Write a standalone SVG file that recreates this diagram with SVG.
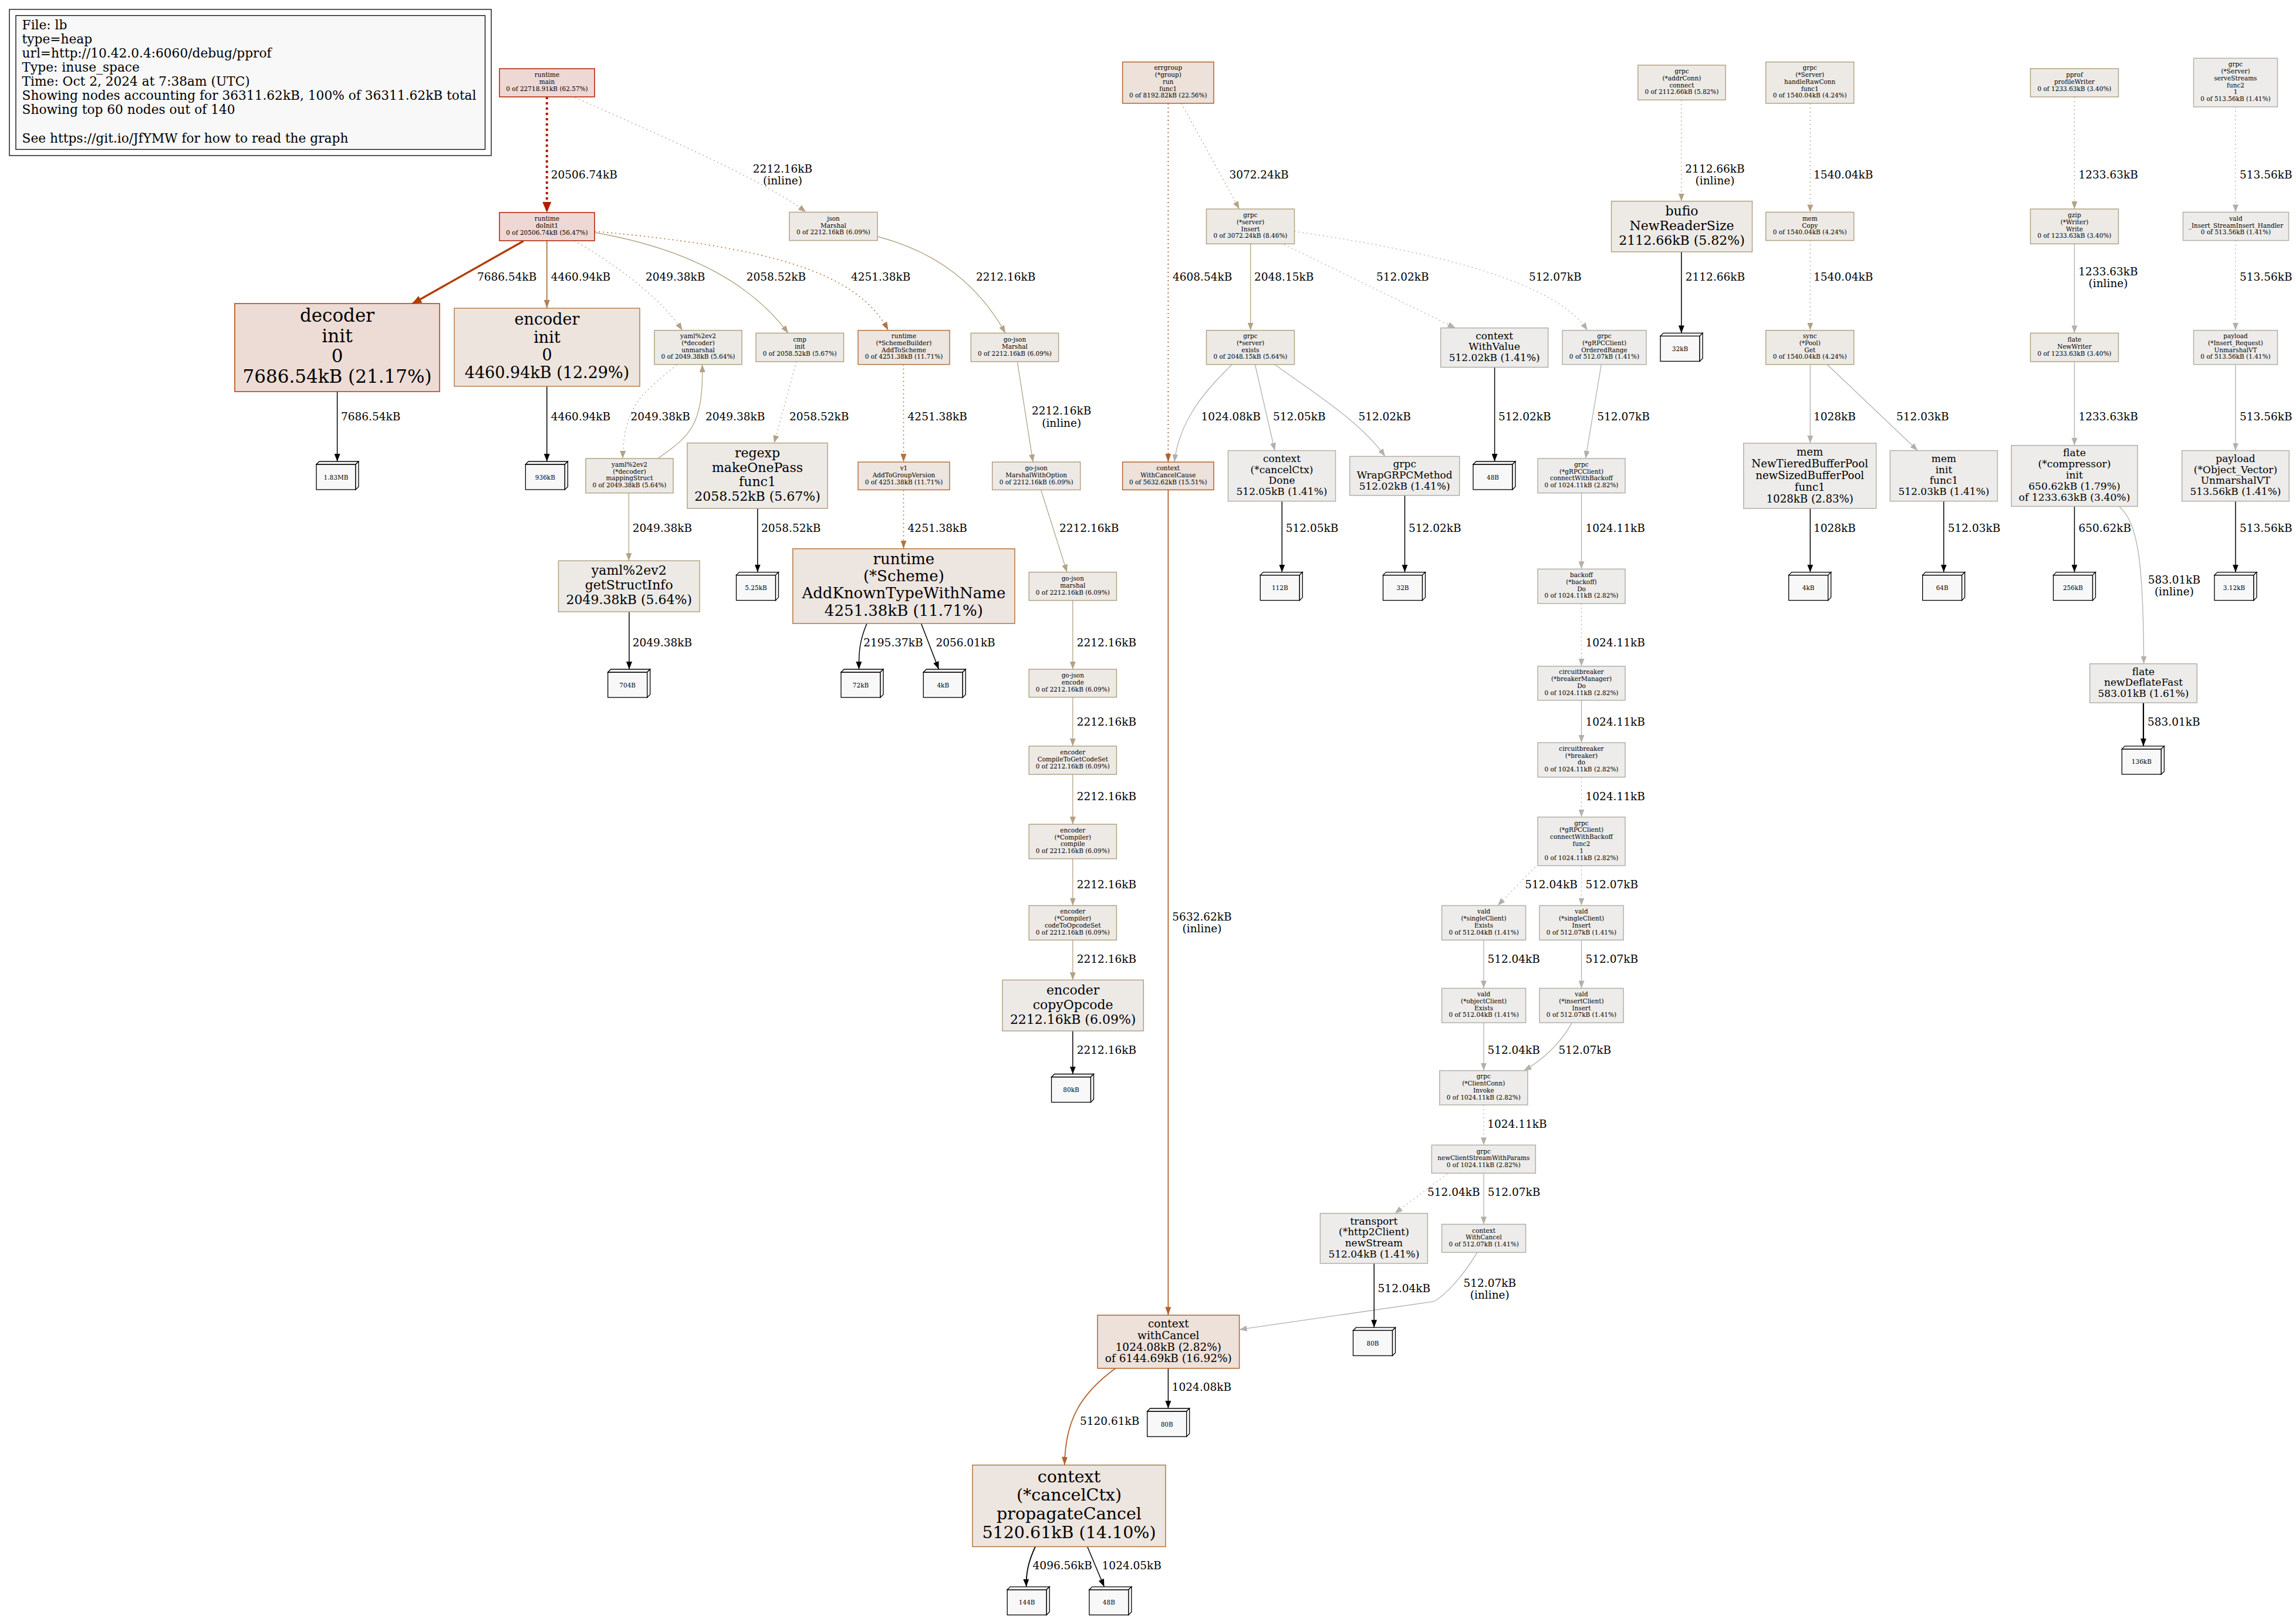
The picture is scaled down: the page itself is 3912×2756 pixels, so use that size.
<svg xmlns="http://www.w3.org/2000/svg" xmlns:xlink="http://www.w3.org/1999/xlink" width="3912" height="2756" viewBox="0 0 3912 2756">
<style>
text{font-family:"DejaVu Serif","Liberation Serif",serif;fill:#000;dominant-baseline:central}
.nt{text-anchor:middle}
.s{font-size:10.5px}.f17{font-size:17px}.f172{font-size:17.2px}.f182{font-size:18.2px}.f185{font-size:18.5px}.f22{font-size:22px}.f26{font-size:26px}.f27{font-size:27px}.f285{font-size:28.5px}.f31{font-size:31px}
.el{font-size:18.5px}.elc{font-size:18.5px;text-anchor:middle}
.lg{font-size:21.7px}
.red{fill:#edd8d5;stroke:#b21e00;stroke-width:1.5}
.dec{fill:#eddcd5;stroke:#b23c00;stroke-width:1.5}
.enc{fill:#ede4dd;stroke:#b28152;stroke-width:1.5}
.org2{fill:#ede1d9;stroke:#b2622d;stroke-width:1.5}
.org{fill:#ede5df;stroke:#b2753f;stroke-width:1.5}
.tan{fill:#edeae6;stroke:#b2a388;stroke-width:1.5}
.gray{fill:#edecea;stroke:#b2b0a9;stroke-width:1.5}
.e{fill:none}
.eRed{stroke:#b21e00;stroke-width:4;stroke-dasharray:4,5;marker-end:url(#mRed)}
.eDec{stroke:#b23c00;stroke-width:3.4;marker-end:url(#mDec)}
.eEnc{stroke:#b28152;stroke-width:2;marker-end:url(#mEnc)}
.eOrg{stroke:#b2753f;stroke-width:1.6;marker-end:url(#mOrg)}
.eOrg2{stroke:#b2622d;stroke-width:1.8;marker-end:url(#mOrg2)}
.eTan{stroke:#b2a284;stroke-width:1.3;marker-end:url(#mTan)}
.eGray{stroke:#b2b0aa;stroke-width:1.3;marker-end:url(#mGray)}
.eBlk{stroke:#000;stroke-width:1.5;marker-end:url(#mBlk)}
.d{stroke-dasharray:2,5}
.b3 rect,.b3 polygon{fill:#f8f8f8;stroke:#000;stroke-width:1.3}
.bt{font-size:10.5px;text-anchor:middle}
</style>
<defs>
<marker id="mRed" markerUnits="userSpaceOnUse" markerWidth="18" markerHeight="15" refX="18" refY="7.5" orient="auto"><path d="M0,0 L18,7.5 L0,15 z" fill="#b21e00"/></marker>
<marker id="mDec" markerUnits="userSpaceOnUse" markerWidth="17" markerHeight="13" refX="17" refY="6.5" orient="auto"><path d="M0,0 L17,6.5 L0,13 z" fill="#b23c00"/></marker>
<marker id="mEnc" markerUnits="userSpaceOnUse" markerWidth="14" markerHeight="10" refX="14" refY="5" orient="auto"><path d="M0,0 L14,5 L0,10 z" fill="#b28152"/></marker>
<marker id="mOrg" markerUnits="userSpaceOnUse" markerWidth="14" markerHeight="10" refX="14" refY="5" orient="auto"><path d="M0,0 L14,5 L0,10 z" fill="#b2753f"/></marker>
<marker id="mOrg2" markerUnits="userSpaceOnUse" markerWidth="14" markerHeight="10" refX="14" refY="5" orient="auto"><path d="M0,0 L14,5 L0,10 z" fill="#b2622d"/></marker>
<marker id="mTan" markerUnits="userSpaceOnUse" markerWidth="13" markerHeight="10" refX="13" refY="5" orient="auto"><path d="M0,0 L13,5 L0,10 z" fill="#b2a284"/></marker>
<marker id="mGray" markerUnits="userSpaceOnUse" markerWidth="13" markerHeight="10" refX="13" refY="5" orient="auto"><path d="M0,0 L13,5 L0,10 z" fill="#b2b0aa"/></marker>
<marker id="mBlk" markerUnits="userSpaceOnUse" markerWidth="13" markerHeight="10" refX="13" refY="5" orient="auto"><path d="M0,0 L13,5 L0,10 z" fill="#000"/></marker>
<g id="b3" class="b3"><rect x="0" y="5" width="67" height="43"/><polygon points="0,5 5,0 72,0 67,5"/><polygon points="67,5 72,0 72,43 67,48"/></g>
</defs>
<rect x="0" y="0" width="3912" height="2756" fill="#fff"/>

<g id="legend">
<rect x="16" y="16" width="821" height="249" fill="#fff" stroke="#000" stroke-width="1.3"/>
<rect x="27" y="26.5" width="799.5" height="228" fill="#f8f8f8" stroke="#000" stroke-width="1.3"/>
<text class="lg"><tspan x="37.6" y="42">File: lb</tspan><tspan x="37.6" y="66">type=heap</tspan><tspan x="37.6" y="90">url=http://10.42.0.4:6060/debug/pprof</tspan><tspan x="37.6" y="114">Type: inuse_space</tspan><tspan x="37.6" y="138">Time: Oct 2, 2024 at 7:38am (UTC)</tspan><tspan x="37.6" y="162">Showing nodes accounting for 36311.62kB, 100% of 36311.62kB total</tspan><tspan x="37.6" y="186">Showing top 60 nodes out of 140</tspan><tspan x="37.6" y="235.2">See https://git.io/JfYMW for how to read the graph</tspan></text>
</g>

<g id="edges">
<path class="e eRed" d="M931.8,165 L931.8,362"/>
<path class="e eTan d" d="M980,166 C1100,220 1300,305 1373,361"/>
<path class="e eDec" d="M891.6,410.7 L701.5,518"/>
<path class="e eEnc" d="M931.8,410 L931.8,525"/>
<path class="e eTan d" d="M979,410 C1040,445 1125,505 1162.6,562.7"/>
<path class="e eTan" d="M1013,396 C1150,420 1270,470 1343,567.4"/>
<path class="e eOrg d" d="M1013,394 C1300,420 1460,460 1513.4,562.7"/>
<path class="e eTan" d="M1495,403 C1600,430 1670,490 1713,567.4"/>
<path class="e eTan d" d="M1153,621 C1105,665 1063,680 1061,781"/>
<path class="e eTan" d="M1121,781 C1170,745 1200,730 1196.4,621"/>
<path class="e eTan d" d="M1357,616 L1319,754.6"/>
<path class="e eOrg d" d="M1539.5,620.8 L1539.5,787"/>
<path class="e eTan" d="M1733.4,616 L1760,787"/>
<path class="e eOrg2 d" d="M1990.4,176 L1990.4,787"/>
<path class="e eTan d" d="M2012.8,176 L2111.6,356"/>
<path class="e eTan" d="M2130.7,415.4 L2130.7,562.7"/>
<path class="e eGray d" d="M2188,416.6 L2479.6,558.6"/>
<path class="e eGray d" d="M2205.4,394 C2450,430 2650,480 2704.7,562.7"/>
<path class="e eGray" d="M2098.8,621 C2060,660 2010,710 2001,787"/>
<path class="e eGray" d="M2138.4,621 L2172,767.5"/>
<path class="e eGray" d="M2172,621 C2240,670 2320,720 2360,777.4"/>
<path class="e eBlk" d="M2546.6,625.6 L2546.6,786"/>
<path class="e eGray" d="M2728.3,621 L2701.5,781"/>
<path class="e eTan d" d="M2864.8,170.2 L2864.8,342.7"/>
<path class="e eBlk" d="M2864.8,429 L2864.8,567.4"/>
<path class="e eTan d" d="M3084.3,176 L3084.3,361.4"/>
<path class="e eTan d" d="M3084.3,409.6 L3084.3,562.7"/>
<path class="e eGray" d="M3084.3,620.8 L3084.3,755"/>
<path class="e eGray" d="M3113.4,621 L3267.5,767.5"/>
<path class="e eTan d" d="M3534.5,165 L3534.5,356"/>
<path class="e eGray" d="M3534.5,415.4 L3534.5,567.4"/>
<path class="e eGray" d="M3534.5,616 L3534.5,758.7"/>
<path class="e eGray d" d="M3809,182 L3809,361.4"/>
<path class="e eGray d" d="M3809,409.6 L3809,562.7"/>
<path class="e eGray" d="M3809,620.8 L3809,767.5"/>
<path class="e eGray" d="M3610.7,862.5 C3640,890 3652,940 3652.6,1130.6"/>
<path class="e eBlk" style="stroke-width:2.2" d="M3652,1197 L3652,1270.9"/>
<path class="e eBlk" d="M3084.3,866 L3084.3,974.6"/>
<path class="e eBlk" d="M3311.8,853.7 L3311.8,974.6"/>
<path class="e eBlk" d="M3534.5,862.5 L3534.5,974.6"/>
<path class="e eBlk" d="M3809,853.7 L3809,974.6"/>
<path class="e eBlk" d="M574.6,667 L574.6,786"/>
<path class="e eBlk" d="M931.8,658 L931.8,786"/>
<path class="e eTan" d="M1071.4,839.7 L1071.4,955.2"/>
<path class="e eBlk" d="M1290.8,866 L1290.8,974.6"/>
<path class="e eOrg d" d="M1539.5,834.4 L1539.5,934.7"/>
<path class="e eTan" d="M1773.6,834.4 L1818,974.6"/>
<path class="e eBlk" d="M1072,1042 L1072,1140"/>
<path class="e eBlk" d="M1477,1062 C1465,1090 1463,1110 1463.5,1140"/>
<path class="e eBlk" d="M1569.5,1062 L1599.5,1140"/>
<path class="e eTan" d="M1827.8,1022.7 L1827.8,1140"/>
<path class="e eTan" d="M1827.8,1187.6 L1827.8,1270.9"/>
<path class="e eTan" d="M1827.8,1319 L1827.8,1404"/>
<path class="e eTan" d="M1827.8,1462.7 L1827.8,1542.5"/>
<path class="e eTan" d="M1827.8,1601.2 L1827.8,1669.3"/>
<path class="e eBlk" d="M1827.8,1756 L1827.8,1829.5"/>
<path class="e eOrg2" d="M1990.4,834.4 L1990.4,2240.2"/>
<path class="e eBlk" d="M2184.3,853.7 L2184.3,974.6"/>
<path class="e eBlk" d="M2393.5,843.8 L2393.5,974.6"/>
<path class="e eGray" d="M2694.5,839.7 L2694.5,969.3"/>
<path class="e eGray d" d="M2694.5,1028 L2694.5,1134.8"/>
<path class="e eGray" d="M2694.5,1192.8 L2694.5,1265"/>
<path class="e eGray d" d="M2694.5,1323.7 L2694.5,1391.7"/>
<path class="e eGray d" d="M2615.4,1477 L2551.7,1542.5"/>
<path class="e eGray d" d="M2694.5,1474.5 L2694.5,1542.5"/>
<path class="e eGray" d="M2528,1601.2 L2528,1683.4"/>
<path class="e eGray" d="M2694.5,1601.2 L2694.5,1683.4"/>
<path class="e eGray" d="M2528,1742 L2528,1823.6"/>
<path class="e eGray" d="M2678,1742.6 C2660,1775 2630,1805 2596.3,1823.6"/>
<path class="e eGray d" d="M2528,1882 L2528,1950.4"/>
<path class="e eGray d" d="M2465.8,1999.5 L2376.5,2066.7"/>
<path class="e eGray" d="M2528,1998.3 L2528,2085.4"/>
<path class="e eGray" d="M2516.8,2133.3 C2495,2170 2465,2205 2442.9,2216.8 L2111.6,2264.7"/>
<path class="e eBlk" d="M2341.2,2152 L2341.2,2261.2"/>
<path class="e eBlk" d="M1990.4,2330.7 L1990.4,2399"/>
<path class="e eOrg2" d="M1900.5,2330.7 C1840,2375 1815,2420 1813.8,2495.5"/>
<path class="e eBlk" style="stroke-width:1.8" d="M1764,2634.5 C1752,2660 1748,2680 1748.7,2702.8"/>
<path class="e eBlk" d="M1852.7,2634.5 L1881.4,2702.8"/>
</g>

<g id="edge-labels">
<text class="el" x="938.8" y="297">20506.74kB</text>
<text class="elc"><tspan x="1333.5" y="287">2212.16kB</tspan><tspan x="1333.5" y="307">(inline)</tspan></text>
<text class="el" x="813" y="471">7686.54kB</text>
<text class="el" x="938.8" y="471">4460.94kB</text>
<text class="el" x="1100" y="471">2049.38kB</text>
<text class="el" x="1271.7" y="471">2058.52kB</text>
<text class="el" x="1450" y="471">4251.38kB</text>
<text class="el" x="1663" y="471">2212.16kB</text>
<text class="el" x="1998" y="471">4608.54kB</text>
<text class="el" x="2137" y="471">2048.15kB</text>
<text class="el" x="2345" y="471">512.02kB</text>
<text class="el" x="2605" y="471">512.07kB</text>
<text class="el" x="2871.8" y="471">2112.66kB</text>
<text class="el" x="2094.4" y="297">3072.24kB</text>
<text class="elc"><tspan x="2922" y="287">2112.66kB</tspan><tspan x="2922" y="307">(inline)</tspan></text>
<text class="el" x="3090" y="297">1540.04kB</text>
<text class="el" x="3090" y="471">1540.04kB</text>
<text class="el" x="3541.5" y="297">1233.63kB</text>
<text class="elc"><tspan x="3592" y="462">1233.63kB</tspan><tspan x="3592" y="482">(inline)</tspan></text>
<text class="el" x="3816" y="297">513.56kB</text>
<text class="el" x="3816" y="471">513.56kB</text>
<text class="el" x="581" y="709">7686.54kB</text>
<text class="el" x="938.8" y="709">4460.94kB</text>
<text class="el" x="1074.6" y="709">2049.38kB</text>
<text class="el" x="1202" y="709">2049.38kB</text>
<text class="el" x="1345" y="709">2058.52kB</text>
<text class="el" x="1546.6" y="709">4251.38kB</text>
<text class="elc"><tspan x="1808.7" y="699">2212.16kB</tspan><tspan x="1808.7" y="719.5">(inline)</tspan></text>
<text class="el" x="2046.6" y="709">1024.08kB</text>
<text class="el" x="2169" y="709">512.05kB</text>
<text class="el" x="2314.4" y="709">512.02kB</text>
<text class="el" x="2553" y="709">512.02kB</text>
<text class="el" x="2721.3" y="709">512.07kB</text>
<text class="el" x="3090" y="709">1028kB</text>
<text class="el" x="3231" y="709">512.03kB</text>
<text class="el" x="3541.5" y="709">1233.63kB</text>
<text class="el" x="3816" y="709">513.56kB</text>
<text class="el" x="1077.8" y="899">2049.38kB</text>
<text class="el" x="1297" y="899">2058.52kB</text>
<text class="el" x="1546.6" y="899">4251.38kB</text>
<text class="el" x="1805" y="899">2212.16kB</text>
<text class="el" x="2190.7" y="899">512.05kB</text>
<text class="el" x="2400" y="899">512.02kB</text>
<text class="el" x="2701.5" y="899">1024.11kB</text>
<text class="el" x="3090" y="899">1028kB</text>
<text class="el" x="3318.7" y="899">512.03kB</text>
<text class="el" x="3541.5" y="899">650.62kB</text>
<text class="el" x="3816" y="899">513.56kB</text>
<text class="elc"><tspan x="3704.4" y="987">583.01kB</tspan><tspan x="3704.4" y="1007.4">(inline)</tspan></text>
<text class="el" x="1077.8" y="1094.9">2049.38kB</text>
<text class="el" x="1471.3" y="1094.9">2195.37kB</text>
<text class="el" x="1594.4" y="1094.9">2056.01kB</text>
<text class="el" x="1834.8" y="1094.9">2212.16kB</text>
<text class="el" x="2701.5" y="1094.9">1024.11kB</text>
<text class="el" x="3659" y="1229.8">583.01kB</text>
<text class="el" x="1834.8" y="1229.8">2212.16kB</text>
<text class="el" x="2701.5" y="1229.8">1024.11kB</text>
<text class="el" x="1834.8" y="1356.5">2212.16kB</text>
<text class="el" x="2701.5" y="1356.5">1024.11kB</text>
<text class="el" x="1834.8" y="1506.8">2212.16kB</text>
<text class="el" x="2598.2" y="1506.8">512.04kB</text>
<text class="el" x="2701.5" y="1506.8">512.07kB</text>
<text class="elc"><tspan x="2048" y="1560.7">5632.62kB</tspan><tspan x="2048" y="1581.3">(inline)</tspan></text>
<text class="el" x="1834.8" y="1633.5">2212.16kB</text>
<text class="el" x="2534.4" y="1633.5">512.04kB</text>
<text class="el" x="2701.5" y="1633.5">512.07kB</text>
<text class="el" x="1834.8" y="1788.4">2212.16kB</text>
<text class="el" x="2534.4" y="1788.4">512.04kB</text>
<text class="el" x="2655.6" y="1788.4">512.07kB</text>
<text class="el" x="2534.2" y="1914.8">1024.11kB</text>
<text class="el" x="2432" y="2030.4">512.04kB</text>
<text class="el" x="2534.7" y="2030.4">512.07kB</text>
<text class="elc"><tspan x="2538.3" y="2184.7">512.07kB</tspan><tspan x="2538.3" y="2205.1">(inline)</tspan></text>
<text class="el" x="2347.6" y="2194">512.04kB</text>
<text class="el" x="1996.8" y="2362.8">1024.08kB</text>
<text class="el" x="1840" y="2420.7">5120.61kB</text>
<text class="el" x="1759.6" y="2666.6">4096.56kB</text>
<text class="el" x="1877.6" y="2666.6">1024.05kB</text>
</g>

<g id="n_runtime_main"><rect class="red" x="851" y="117" width="162" height="48"/><text class="nt s"><tspan x="932" y="127.2">runtime</tspan><tspan x="932" dy="11.8">main</tspan><tspan x="932" dy="11.8">0 of 22718.91kB (62.57%)</tspan></text></g>
<g id="n_runtime_doInit1"><rect class="red" x="851" y="362" width="162" height="48"/><text class="nt s"><tspan x="932" y="372.2">runtime</tspan><tspan x="932" dy="11.8">doInit1</tspan><tspan x="932" dy="11.8">0 of 20506.74kB (56.47%)</tspan></text></g>
<g id="n_decoder_init"><rect class="dec" x="400" y="517" width="349" height="150"/><text class="nt f31"><tspan x="574.5" y="537.3">decoder</tspan><tspan x="574.5" dy="34.5">init</tspan><tspan x="574.5" dy="34.5">0</tspan><tspan x="574.5" dy="34.5">7686.54kB (21.17%)</tspan></text></g>
<g id="n_encoder_init"><rect class="enc" x="774" y="525" width="316" height="133"/><text class="nt f27"><tspan x="932" y="543.4">encoder</tspan><tspan x="932" dy="30.3">init</tspan><tspan x="932" dy="30.3">0</tspan><tspan x="932" dy="30.3">4460.94kB (12.29%)</tspan></text></g>
<g id="n_json_Marshal"><rect class="tan" x="1345" y="361.4" width="150" height="48.2"/><text class="nt s"><tspan x="1420" y="371.7">json</tspan><tspan x="1420" dy="11.8">Marshal</tspan><tspan x="1420" dy="11.8">0 of 2212.16kB (6.09%)</tspan></text></g>
<g id="n_yaml_unmarshal"><rect class="tan" x="1115" y="562.7" width="149" height="58.1"/><text class="nt s"><tspan x="1189.5" y="572">yaml%2ev2</tspan><tspan x="1189.5" dy="11.8">(*decoder)</tspan><tspan x="1189.5" dy="11.8">unmarshal</tspan><tspan x="1189.5" dy="11.8">0 of 2049.38kB (5.64%)</tspan></text></g>
<g id="n_cmp_init"><rect class="tan" x="1288" y="567.4" width="149.5" height="48.6"/><text class="nt s"><tspan x="1362.75" y="577.9">cmp</tspan><tspan x="1362.75" dy="11.8">init</tspan><tspan x="1362.75" dy="11.8">0 of 2058.52kB (5.67%)</tspan></text></g>
<g id="n_AddToScheme"><rect class="org" x="1462" y="562.7" width="156" height="58.1"/><text class="nt s"><tspan x="1540" y="572">runtime</tspan><tspan x="1540" dy="11.8">(*SchemeBuilder)</tspan><tspan x="1540" dy="11.8">AddToScheme</tspan><tspan x="1540" dy="11.8">0 of 4251.38kB (11.71%)</tspan></text></g>
<g id="n_gojson_Marshal"><rect class="tan" x="1654.3" y="567.4" width="149.3" height="48.6"/><text class="nt s"><tspan x="1729" y="577.9">go-json</tspan><tspan x="1729" dy="11.8">Marshal</tspan><tspan x="1729" dy="11.8">0 of 2212.16kB (6.09%)</tspan></text></g>
<g id="n_mappingStruct"><rect class="tan" x="998" y="781" width="149" height="58.7"/><text class="nt s"><tspan x="1072.5" y="790.7">yaml%2ev2</tspan><tspan x="1072.5" dy="11.8">(*decoder)</tspan><tspan x="1072.5" dy="11.8">mappingStruct</tspan><tspan x="1072.5" dy="11.8">0 of 2049.38kB (5.64%)</tspan></text></g>
<g id="n_regexp"><rect class="tan" x="1171" y="754.6" width="239" height="111.4"/><text class="nt f22"><tspan x="1290.5" y="771.2">regexp</tspan><tspan x="1290.5" dy="24.6">makeOnePass</tspan><tspan x="1290.5" dy="24.6">func1</tspan><tspan x="1290.5" dy="24.6">2058.52kB (5.67%)</tspan></text></g>
<g id="n_v1"><rect class="org" x="1462" y="787" width="156" height="47.4"/><text class="nt s"><tspan x="1540" y="796.9">v1</tspan><tspan x="1540" dy="11.8">AddToGroupVersion</tspan><tspan x="1540" dy="11.8">0 of 4251.38kB (11.71%)</tspan></text></g>
<g id="n_MarshalWithOption"><rect class="tan" x="1690.7" y="787" width="150" height="47.4"/><text class="nt s"><tspan x="1765.7" y="796.9">go-json</tspan><tspan x="1765.7" dy="11.8">MarshalWithOption</tspan><tspan x="1765.7" dy="11.8">0 of 2212.16kB (6.09%)</tspan></text></g>
<g id="n_errgroup"><rect class="org2" x="1912.6" y="105.6" width="155.4" height="70.4"/><text class="nt s"><tspan x="1990.3" y="115.2">errgroup</tspan><tspan x="1990.3" dy="11.8">(*group)</tspan><tspan x="1990.3" dy="11.8">run</tspan><tspan x="1990.3" dy="11.8">func1</tspan><tspan x="1990.3" dy="11.8">0 of 8192.82kB (22.56%)</tspan></text></g>
<g id="n_WithCancelCause"><rect class="org2" x="1912.6" y="787" width="155.4" height="47.4"/><text class="nt s"><tspan x="1990.3" y="796.9">context</tspan><tspan x="1990.3" dy="11.8">WithCancelCause</tspan><tspan x="1990.3" dy="11.8">0 of 5632.62kB (15.51%)</tspan></text></g>
<g id="n_server_Insert"><rect class="tan" x="2055.5" y="356" width="150" height="59.4"/><text class="nt s"><tspan x="2130.5" y="366">grpc</tspan><tspan x="2130.5" dy="11.8">(*server)</tspan><tspan x="2130.5" dy="11.8">Insert</tspan><tspan x="2130.5" dy="11.8">0 of 3072.24kB (8.46%)</tspan></text></g>
<g id="n_server_exists"><rect class="tan" x="2055.5" y="562.7" width="150" height="58.1"/><text class="nt s"><tspan x="2130.5" y="572">grpc</tspan><tspan x="2130.5" dy="11.8">(*server)</tspan><tspan x="2130.5" dy="11.8">exists</tspan><tspan x="2130.5" dy="11.8">0 of 2048.15kB (5.64%)</tspan></text></g>
<g id="n_WithValue"><rect class="gray" x="2454.7" y="558.6" width="183" height="67"/><text class="nt f17"><tspan x="2546.2" y="571.8">context</tspan><tspan x="2546.2" dy="18.6">WithValue</tspan><tspan x="2546.2" dy="18.6">512.02kB (1.41%)</tspan></text></g>
<g id="n_OrderedRange"><rect class="gray" x="2662" y="562.7" width="143" height="58.1"/><text class="nt s"><tspan x="2733.5" y="572">grpc</tspan><tspan x="2733.5" dy="11.8">(*gRPCClient)</tspan><tspan x="2733.5" dy="11.8">OrderedRange</tspan><tspan x="2733.5" dy="11.8">0 of 512.07kB (1.41%)</tspan></text></g>
<g id="n_bufio"><rect class="tan" x="2745.5" y="342.7" width="240" height="86.3"/><text class="nt f22"><tspan x="2865.5" y="358.7">bufio</tspan><tspan x="2865.5" dy="25">NewReaderSize</tspan><tspan x="2865.5" dy="25">2112.66kB (5.82%)</tspan></text></g>
<g id="n_addrConn"><rect class="tan" x="2790.8" y="111" width="149.2" height="59.2"/><text class="nt s"><tspan x="2865.4" y="120.9">grpc</tspan><tspan x="2865.4" dy="11.8">(*addrConn)</tspan><tspan x="2865.4" dy="11.8">connect</tspan><tspan x="2865.4" dy="11.8">0 of 2112.66kB (5.82%)</tspan></text></g>
<g id="n_Done"><rect class="gray" x="2092.5" y="767.5" width="183" height="86.2"/><text class="nt f17"><tspan x="2184" y="781">context</tspan><tspan x="2184" dy="18.6">(*cancelCtx)</tspan><tspan x="2184" dy="18.6">Done</tspan><tspan x="2184" dy="18.6">512.05kB (1.41%)</tspan></text></g>
<g id="n_WrapGRPCMethod"><rect class="gray" x="2299.7" y="777.4" width="187" height="66.4"/><text class="nt f17"><tspan x="2393.2" y="790.3">grpc</tspan><tspan x="2393.2" dy="18.6">WrapGRPCMethod</tspan><tspan x="2393.2" dy="18.6">512.02kB (1.41%)</tspan></text></g>
<g id="n_connectWithBackoff"><rect class="gray" x="2620" y="781" width="149" height="58.7"/><text class="nt s"><tspan x="2694.5" y="790.7">grpc</tspan><tspan x="2694.5" dy="11.8">(*gRPCClient)</tspan><tspan x="2694.5" dy="11.8">connectWithBackoff</tspan><tspan x="2694.5" dy="11.8">0 of 1024.11kB (2.82%)</tspan></text></g>
<g id="n_handleRawConn"><rect class="tan" x="3008.7" y="105.6" width="150" height="70.4"/><text class="nt s"><tspan x="3083.7" y="115.2">grpc</tspan><tspan x="3083.7" dy="11.8">(*Server)</tspan><tspan x="3083.7" dy="11.8">handleRawConn</tspan><tspan x="3083.7" dy="11.8">func1</tspan><tspan x="3083.7" dy="11.8">0 of 1540.04kB (4.24%)</tspan></text></g>
<g id="n_mem_Copy"><rect class="tan" x="3008.7" y="361.4" width="150" height="48.2"/><text class="nt s"><tspan x="3083.7" y="371.7">mem</tspan><tspan x="3083.7" dy="11.8">Copy</tspan><tspan x="3083.7" dy="11.8">0 of 1540.04kB (4.24%)</tspan></text></g>
<g id="n_sync_Get"><rect class="tan" x="3008.7" y="562.7" width="150" height="58.1"/><text class="nt s"><tspan x="3083.7" y="572">sync</tspan><tspan x="3083.7" dy="11.8">(*Pool)</tspan><tspan x="3083.7" dy="11.8">Get</tspan><tspan x="3083.7" dy="11.8">0 of 1540.04kB (4.24%)</tspan></text></g>
<g id="n_NewTieredBufferPool"><rect class="gray" x="2970.7" y="755" width="226" height="111"/><text class="nt f182"><tspan x="3083.7" y="768.9">mem</tspan><tspan x="3083.7" dy="19.9">NewTieredBufferPool</tspan><tspan x="3083.7" dy="19.9">newSizedBufferPool</tspan><tspan x="3083.7" dy="19.9">func1</tspan><tspan x="3083.7" dy="19.9">1028kB (2.83%)</tspan></text></g>
<g id="n_mem_init_func1"><rect class="gray" x="3220.4" y="767.5" width="183" height="86.2"/><text class="nt f17"><tspan x="3312" y="781">mem</tspan><tspan x="3312" dy="18.6">init</tspan><tspan x="3312" dy="18.6">func1</tspan><tspan x="3312" dy="18.6">512.03kB (1.41%)</tspan></text></g>
<g id="n_pprof"><rect class="tan" x="3459.5" y="116.8" width="150" height="48.2"/><text class="nt s"><tspan x="3534.5" y="127.1">pprof</tspan><tspan x="3534.5" dy="11.8">profileWriter</tspan><tspan x="3534.5" dy="11.8">0 of 1233.63kB (3.40%)</tspan></text></g>
<g id="n_gzip"><rect class="tan" x="3459.5" y="356" width="150" height="59.4"/><text class="nt s"><tspan x="3534.5" y="366">gzip</tspan><tspan x="3534.5" dy="11.8">(*Writer)</tspan><tspan x="3534.5" dy="11.8">Write</tspan><tspan x="3534.5" dy="11.8">0 of 1233.63kB (3.40%)</tspan></text></g>
<g id="n_flate_NewWriter"><rect class="tan" x="3459.5" y="567.4" width="150" height="48.6"/><text class="nt s"><tspan x="3534.5" y="577.9">flate</tspan><tspan x="3534.5" dy="11.8">NewWriter</tspan><tspan x="3534.5" dy="11.8">0 of 1233.63kB (3.40%)</tspan></text></g>
<g id="n_compressor"><rect class="gray" x="3427" y="758.7" width="215" height="103.8"/><text class="nt f172"><tspan x="3534.5" y="771.3">flate</tspan><tspan x="3534.5" dy="18.8">(*compressor)</tspan><tspan x="3534.5" dy="18.8">init</tspan><tspan x="3534.5" dy="18.8">650.62kB (1.79%)</tspan><tspan x="3534.5" dy="18.8">of 1233.63kB (3.40%)</tspan></text></g>
<g id="n_serveStreams"><rect class="gray" x="3737.5" y="99.2" width="143" height="82.8"/><text class="nt s"><tspan x="3809" y="109.1">grpc</tspan><tspan x="3809" dy="11.8">(*Server)</tspan><tspan x="3809" dy="11.8">serveStreams</tspan><tspan x="3809" dy="11.8">func2</tspan><tspan x="3809" dy="11.8">1</tspan><tspan x="3809" dy="11.8">0 of 513.56kB (1.41%)</tspan></text></g>
<g id="n_vald_handler"><rect class="gray" x="3719.5" y="361.4" width="180" height="48.2"/><text class="nt s"><tspan x="3809.5" y="371.7">vald</tspan><tspan x="3809.5" dy="11.8">_Insert_StreamInsert_Handler</tspan><tspan x="3809.5" dy="11.8">0 of 513.56kB (1.41%)</tspan></text></g>
<g id="n_payload_req"><rect class="gray" x="3737.5" y="562.7" width="143" height="58.1"/><text class="nt s"><tspan x="3809" y="572">payload</tspan><tspan x="3809" dy="11.8">(*Insert_Request)</tspan><tspan x="3809" dy="11.8">UnmarshalVT</tspan><tspan x="3809" dy="11.8">0 of 513.56kB (1.41%)</tspan></text></g>
<g id="n_Object_Vector"><rect class="gray" x="3717.7" y="767.5" width="182.6" height="86.2"/><text class="nt f17"><tspan x="3809" y="781">payload</tspan><tspan x="3809" dy="18.6">(*Object_Vector)</tspan><tspan x="3809" dy="18.6">UnmarshalVT</tspan><tspan x="3809" dy="18.6">513.56kB (1.41%)</tspan></text></g>
<g id="n_newDeflateFast"><rect class="gray" x="3560.7" y="1130.6" width="182.6" height="66.4"/><text class="nt f17"><tspan x="3652" y="1143.5">flate</tspan><tspan x="3652" dy="18.6">newDeflateFast</tspan><tspan x="3652" dy="18.6">583.01kB (1.61%)</tspan></text></g>
<g id="n_getStructInfo"><rect class="tan" x="951.5" y="955.2" width="240.5" height="86.8"/><text class="nt f22"><tspan x="1071.75" y="971.4">yaml%2ev2</tspan><tspan x="1071.75" dy="25">getStructInfo</tspan><tspan x="1071.75" dy="25">2049.38kB (5.64%)</tspan></text></g>
<g id="n_AddKnownTypeWithName"><rect class="org" x="1350.8" y="934.7" width="378.2" height="127.3"/><text class="nt f26"><tspan x="1539.9" y="952">runtime</tspan><tspan x="1539.9" dy="29.2">(*Scheme)</tspan><tspan x="1539.9" dy="29.2">AddKnownTypeWithName</tspan><tspan x="1539.9" dy="29.2">4251.38kB (11.71%)</tspan></text></g>
<g id="n_gojson_marshal"><rect class="tan" x="1753.2" y="974.6" width="149.2" height="48.1"/><text class="nt s"><tspan x="1827.8" y="984.9">go-json</tspan><tspan x="1827.8" dy="11.8">marshal</tspan><tspan x="1827.8" dy="11.8">0 of 2212.16kB (6.09%)</tspan></text></g>
<g id="n_gojson_encode"><rect class="tan" x="1753.2" y="1140" width="149.2" height="47.6"/><text class="nt s"><tspan x="1827.8" y="1150">go-json</tspan><tspan x="1827.8" dy="11.8">encode</tspan><tspan x="1827.8" dy="11.8">0 of 2212.16kB (6.09%)</tspan></text></g>
<g id="n_CompileToGetCodeSet"><rect class="tan" x="1753.2" y="1270.9" width="149.2" height="48.1"/><text class="nt s"><tspan x="1827.8" y="1281.2">encoder</tspan><tspan x="1827.8" dy="11.8">CompileToGetCodeSet</tspan><tspan x="1827.8" dy="11.8">0 of 2212.16kB (6.09%)</tspan></text></g>
<g id="n_compile"><rect class="tan" x="1753.2" y="1404" width="149.2" height="58.7"/><text class="nt s"><tspan x="1827.8" y="1413.7">encoder</tspan><tspan x="1827.8" dy="11.8">(*Compiler)</tspan><tspan x="1827.8" dy="11.8">compile</tspan><tspan x="1827.8" dy="11.8">0 of 2212.16kB (6.09%)</tspan></text></g>
<g id="n_codeToOpcodeSet"><rect class="tan" x="1753.2" y="1542.5" width="149.2" height="58.7"/><text class="nt s"><tspan x="1827.8" y="1552.2">encoder</tspan><tspan x="1827.8" dy="11.8">(*Compiler)</tspan><tspan x="1827.8" dy="11.8">codeToOpcodeSet</tspan><tspan x="1827.8" dy="11.8">0 of 2212.16kB (6.09%)</tspan></text></g>
<g id="n_copyOpcode"><rect class="tan" x="1708" y="1669.3" width="240.3" height="86.7"/><text class="nt f22"><tspan x="1828.15" y="1685.5">encoder</tspan><tspan x="1828.15" dy="25">copyOpcode</tspan><tspan x="1828.15" dy="25">2212.16kB (6.09%)</tspan></text></g>
<g id="n_backoff"><rect class="gray" x="2620" y="969.3" width="149" height="58.7"/><text class="nt s"><tspan x="2694.5" y="979">backoff</tspan><tspan x="2694.5" dy="11.8">(*backoff)</tspan><tspan x="2694.5" dy="11.8">Do</tspan><tspan x="2694.5" dy="11.8">0 of 1024.11kB (2.82%)</tspan></text></g>
<g id="n_breakerManager"><rect class="gray" x="2620" y="1134.8" width="149" height="58"/><text class="nt s"><tspan x="2694.5" y="1144.1">circuitbreaker</tspan><tspan x="2694.5" dy="11.8">(*breakerManager)</tspan><tspan x="2694.5" dy="11.8">Do</tspan><tspan x="2694.5" dy="11.8">0 of 1024.11kB (2.82%)</tspan></text></g>
<g id="n_breaker_do"><rect class="gray" x="2620" y="1265" width="149" height="58.7"/><text class="nt s"><tspan x="2694.5" y="1274.7">circuitbreaker</tspan><tspan x="2694.5" dy="11.8">(*breaker)</tspan><tspan x="2694.5" dy="11.8">do</tspan><tspan x="2694.5" dy="11.8">0 of 1024.11kB (2.82%)</tspan></text></g>
<g id="n_func2"><rect class="gray" x="2620" y="1391.7" width="149" height="82.8"/><text class="nt s"><tspan x="2694.5" y="1401.6">grpc</tspan><tspan x="2694.5" dy="11.8">(*gRPCClient)</tspan><tspan x="2694.5" dy="11.8">connectWithBackoff</tspan><tspan x="2694.5" dy="11.8">func2</tspan><tspan x="2694.5" dy="11.8">1</tspan><tspan x="2694.5" dy="11.8">0 of 1024.11kB (2.82%)</tspan></text></g>
<g id="n_singleClient_Exists"><rect class="gray" x="2456.6" y="1542.5" width="143" height="58.7"/><text class="nt s"><tspan x="2528.1" y="1552.2">vald</tspan><tspan x="2528.1" dy="11.8">(*singleClient)</tspan><tspan x="2528.1" dy="11.8">Exists</tspan><tspan x="2528.1" dy="11.8">0 of 512.04kB (1.41%)</tspan></text></g>
<g id="n_singleClient_Insert"><rect class="gray" x="2623" y="1542.5" width="143" height="58.7"/><text class="nt s"><tspan x="2694.5" y="1552.2">vald</tspan><tspan x="2694.5" dy="11.8">(*singleClient)</tspan><tspan x="2694.5" dy="11.8">Insert</tspan><tspan x="2694.5" dy="11.8">0 of 512.07kB (1.41%)</tspan></text></g>
<g id="n_objectClient_Exists"><rect class="gray" x="2456.6" y="1683.4" width="143" height="58.6"/><text class="nt s"><tspan x="2528.1" y="1693">vald</tspan><tspan x="2528.1" dy="11.8">(*objectClient)</tspan><tspan x="2528.1" dy="11.8">Exists</tspan><tspan x="2528.1" dy="11.8">0 of 512.04kB (1.41%)</tspan></text></g>
<g id="n_insertClient_Insert"><rect class="gray" x="2623" y="1683.4" width="143" height="58.6"/><text class="nt s"><tspan x="2694.5" y="1693">vald</tspan><tspan x="2694.5" dy="11.8">(*insertClient)</tspan><tspan x="2694.5" dy="11.8">Insert</tspan><tspan x="2694.5" dy="11.8">0 of 512.07kB (1.41%)</tspan></text></g>
<g id="n_Invoke"><rect class="gray" x="2452.8" y="1823.6" width="150" height="58.4"/><text class="nt s"><tspan x="2527.8" y="1833.1">grpc</tspan><tspan x="2527.8" dy="11.8">(*ClientConn)</tspan><tspan x="2527.8" dy="11.8">Invoke</tspan><tspan x="2527.8" dy="11.8">0 of 1024.11kB (2.82%)</tspan></text></g>
<g id="n_newClientStreamWithParams"><rect class="gray" x="2439.3" y="1950.4" width="177" height="47.9"/><text class="nt s"><tspan x="2527.8" y="1960.6">grpc</tspan><tspan x="2527.8" dy="11.8">newClientStreamWithParams</tspan><tspan x="2527.8" dy="11.8">0 of 1024.11kB (2.82%)</tspan></text></g>
<g id="n_newStream"><rect class="gray" x="2249.4" y="2066.7" width="183" height="85.3"/><text class="nt f17"><tspan x="2340.9" y="2079.8">transport</tspan><tspan x="2340.9" dy="18.6">(*http2Client)</tspan><tspan x="2340.9" dy="18.6">newStream</tspan><tspan x="2340.9" dy="18.6">512.04kB (1.41%)</tspan></text></g>
<g id="n_WithCancel_small"><rect class="gray" x="2456.6" y="2085.4" width="143" height="47.9"/><text class="nt s"><tspan x="2528.1" y="2095.6">context</tspan><tspan x="2528.1" dy="11.8">WithCancel</tspan><tspan x="2528.1" dy="11.8">0 of 512.07kB (1.41%)</tspan></text></g>
<g id="n_withCancel"><rect class="org2" x="1870" y="2240.2" width="241.6" height="90.5"/><text class="nt f185"><tspan x="1990.8" y="2254">context</tspan><tspan x="1990.8" dy="19.8">withCancel</tspan><tspan x="1990.8" dy="19.8">1024.08kB (2.82%)</tspan><tspan x="1990.8" dy="19.8">of 6144.69kB (16.92%)</tspan></text></g>
<g id="n_propagateCancel"><rect class="org" x="1657" y="2495.5" width="329" height="139"/><text class="nt f285"><tspan x="1821.5" y="2514.7">context</tspan><tspan x="1821.5" dy="31.7">(*cancelCtx)</tspan><tspan x="1821.5" dy="31.7">propagateCancel</tspan><tspan x="1821.5" dy="31.7">5120.61kB (14.10%)</tspan></text></g>

<g id="leaf_1_83MB"><use xlink:href="#b3" x="539" y="786"/><text class="bt" x="572.5" y="812.5">1.83MB</text></g>
<g id="leaf_936kB"><use xlink:href="#b3" x="895.4" y="786"/><text class="bt" x="928.9" y="812.5">936kB</text></g>
<g id="leaf_5_25kB"><use xlink:href="#b3" x="1254.5" y="974.6"/><text class="bt" x="1288" y="1001">5.25kB</text></g>
<g id="leaf_704B"><use xlink:href="#b3" x="1035.7" y="1140"/><text class="bt" x="1069.2" y="1166.5">704B</text></g>
<g id="leaf_72kB"><use xlink:href="#b3" x="1433" y="1140"/><text class="bt" x="1466.5" y="1166.5">72kB</text></g>
<g id="leaf_4kB_a"><use xlink:href="#b3" x="1573.3" y="1140"/><text class="bt" x="1606.8" y="1166.5">4kB</text></g>
<g id="leaf_80kB"><use xlink:href="#b3" x="1791.5" y="1829.5"/><text class="bt" x="1825" y="1856">80kB</text></g>
<g id="leaf_112B"><use xlink:href="#b3" x="2147.3" y="974.6"/><text class="bt" x="2180.8" y="1001">112B</text></g>
<g id="leaf_32B"><use xlink:href="#b3" x="2356.5" y="974.6"/><text class="bt" x="2390" y="1001">32B</text></g>
<g id="leaf_48B_a"><use xlink:href="#b3" x="2510" y="786"/><text class="bt" x="2543.5" y="812.5">48B</text></g>
<g id="leaf_32kB"><use xlink:href="#b3" x="2829" y="567.4"/><text class="bt" x="2862.5" y="593.9">32kB</text></g>
<g id="leaf_4kB_b"><use xlink:href="#b3" x="3047.7" y="974.6"/><text class="bt" x="3081.2" y="1001">4kB</text></g>
<g id="leaf_64B"><use xlink:href="#b3" x="3275.7" y="974.6"/><text class="bt" x="3309.2" y="1001">64B</text></g>
<g id="leaf_256kB"><use xlink:href="#b3" x="3498.5" y="974.6"/><text class="bt" x="3532" y="1001">256kB</text></g>
<g id="leaf_3_12kB"><use xlink:href="#b3" x="3773" y="974.6"/><text class="bt" x="3806.5" y="1001">3.12kB</text></g>
<g id="leaf_136kB"><use xlink:href="#b3" x="3615.4" y="1270.9"/><text class="bt" x="3648.9" y="1297.4">136kB</text></g>
<g id="leaf_80B_a"><use xlink:href="#b3" x="2305.5" y="2261.2"/><text class="bt" x="2339" y="2287.7">80B</text></g>
<g id="leaf_80B_b"><use xlink:href="#b3" x="1954.7" y="2399"/><text class="bt" x="1988.2" y="2425.5">80B</text></g>
<g id="leaf_144B"><use xlink:href="#b3" x="1716.2" y="2702.8"/><text class="bt" x="1749.7" y="2729.3">144B</text></g>
<g id="leaf_48B_b"><use xlink:href="#b3" x="1855.9" y="2702.8"/><text class="bt" x="1889.4" y="2729.3">48B</text></g>
</svg>
